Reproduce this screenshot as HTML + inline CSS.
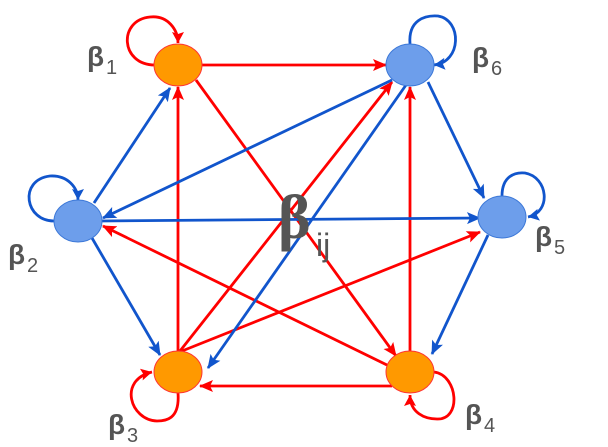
<!DOCTYPE html>
<html><head><meta charset="utf-8"><style>
html,body{margin:0;padding:0;background:#fff;}
svg{display:block;}
text{font-family:"Liberation Sans",sans-serif;fill:#555;}
</style></head><body>
<svg width="608" height="447" viewBox="0 0 608 447" xmlns="http://www.w3.org/2000/svg">
<defs>
<marker id="ar" markerUnits="userSpaceOnUse" markerWidth="14" markerHeight="12" refX="13" refY="6" orient="auto"><path d="M0,0 L14,6 L0,12 L3,6 Z" fill="#f00"/></marker>
<marker id="ab" markerUnits="userSpaceOnUse" markerWidth="14" markerHeight="12" refX="13" refY="6" orient="auto"><path d="M0,0 L14,6 L0,12 L3,6 Z" fill="#1155cc"/></marker>
<marker id="lr" markerUnits="userSpaceOnUse" markerWidth="12" markerHeight="12" refX="11" refY="6" orient="auto"><path d="M0,0 L11,6 L0,12 L2,6 Z" fill="#f00"/></marker>
<marker id="lb" markerUnits="userSpaceOnUse" markerWidth="12" markerHeight="12" refX="11" refY="6" orient="auto"><path d="M0,0 L11,6 L0,12 L2,6 Z" fill="#1155cc"/></marker>
</defs>
<g stroke-width="2.8" fill="none">
<line x1="202" y1="65" x2="386" y2="65" stroke="#f00" marker-end="url(#ar)"/>
<line x1="196" y1="80" x2="396" y2="356" stroke="#f00" marker-end="url(#ar)"/>
<line x1="178" y1="351" x2="178" y2="87" stroke="#f00" marker-end="url(#ar)"/>
<line x1="180" y1="351" x2="392" y2="82" stroke="#f00" marker-end="url(#ar)"/>
<line x1="182" y1="351" x2="480" y2="232" stroke="#f00" marker-end="url(#ar)"/>
<line x1="389" y1="366" x2="103" y2="226" stroke="#f00" marker-end="url(#ar)"/>
<line x1="392" y1="386" x2="200" y2="386" stroke="#f00" marker-end="url(#ar)"/>
<line x1="410" y1="351" x2="410" y2="87" stroke="#f00" marker-end="url(#ar)"/>
<line x1="94" y1="203" x2="170" y2="88" stroke="#1155cc" marker-end="url(#ab)"/>
<line x1="392" y1="80" x2="103" y2="218" stroke="#1155cc" marker-end="url(#ab)"/>
<line x1="100" y1="221" x2="480" y2="218" stroke="#1155cc" marker-end="url(#ab)"/>
<line x1="428" y1="82" x2="484" y2="198" stroke="#1155cc" marker-end="url(#ab)"/>
<line x1="488" y1="235" x2="432" y2="354" stroke="#1155cc" marker-end="url(#ab)"/>
<line x1="92" y1="238" x2="160" y2="355" stroke="#1155cc" marker-end="url(#ab)"/>
<line x1="406" y1="85" x2="208" y2="368" stroke="#1155cc" marker-end="url(#ab)"/>
<path d="M155,65 C120,65 118,20 150,17 C168,15 178,30 178,43" stroke="#f00" marker-end="url(#lr)"/>
<path d="M410,44 C408,20 425,15 438,16 C462,20 462,62 434,65" stroke="#1155cc" marker-end="url(#lb)"/>
<path d="M502,196 C502,176 515,172 525,173 C548,177 552,212 528,217" stroke="#1155cc" marker-end="url(#lb)"/>
<path d="M55,221 C25,222 18,180 50,176 C68,175 78,188 78,200" stroke="#1155cc" marker-end="url(#lb)"/>
<path d="M178,393 C180,420 165,421 157,421 C130,420 118,380 152,372" stroke="#f00" marker-end="url(#lr)"/>
<path d="M434,372 C458,375 462,420 437,419 C425,419 410,413 410,395" stroke="#f00" marker-end="url(#lr)"/>
</g>
<ellipse cx="178" cy="65" rx="24" ry="21" fill="#ff9900" stroke="#f33" stroke-width="1"/>
<ellipse cx="410" cy="65" rx="24" ry="21" fill="#6d9eeb" stroke="#3c78d8" stroke-width="1"/>
<ellipse cx="78" cy="221" rx="24" ry="21" fill="#6d9eeb" stroke="#3c78d8" stroke-width="1"/>
<ellipse cx="502" cy="217" rx="24" ry="21" fill="#6d9eeb" stroke="#3c78d8" stroke-width="1"/>
<ellipse cx="178" cy="372" rx="24" ry="21" fill="#ff9900" stroke="#f33" stroke-width="1"/>
<ellipse cx="410" cy="372" rx="24" ry="21" fill="#ff9900" stroke="#f33" stroke-width="1"/>
<text x="87" y="66" font-size="28" font-weight="bold">β</text><text x="106" y="74" font-size="20">1</text>
<text x="472" y="67" font-size="28" font-weight="bold">β</text><text x="491" y="75" font-size="20">6</text>
<text x="8" y="264" font-size="28" font-weight="bold">β</text><text x="27" y="272" font-size="20">2</text>
<text x="535" y="246" font-size="28" font-weight="bold">β</text><text x="554" y="254" font-size="20">5</text>
<text x="108" y="434" font-size="28" font-weight="bold">β</text><text x="127" y="442" font-size="20">3</text>
<text x="465" y="424" font-size="28" font-weight="bold">β</text><text x="484" y="432" font-size="20">4</text>
<text x="278" y="238" font-size="62" font-weight="bold" style="font-family:'Liberation Serif',serif">β</text>
<text x="316" y="256" font-size="32">ij</text>
</svg>
</body></html>
